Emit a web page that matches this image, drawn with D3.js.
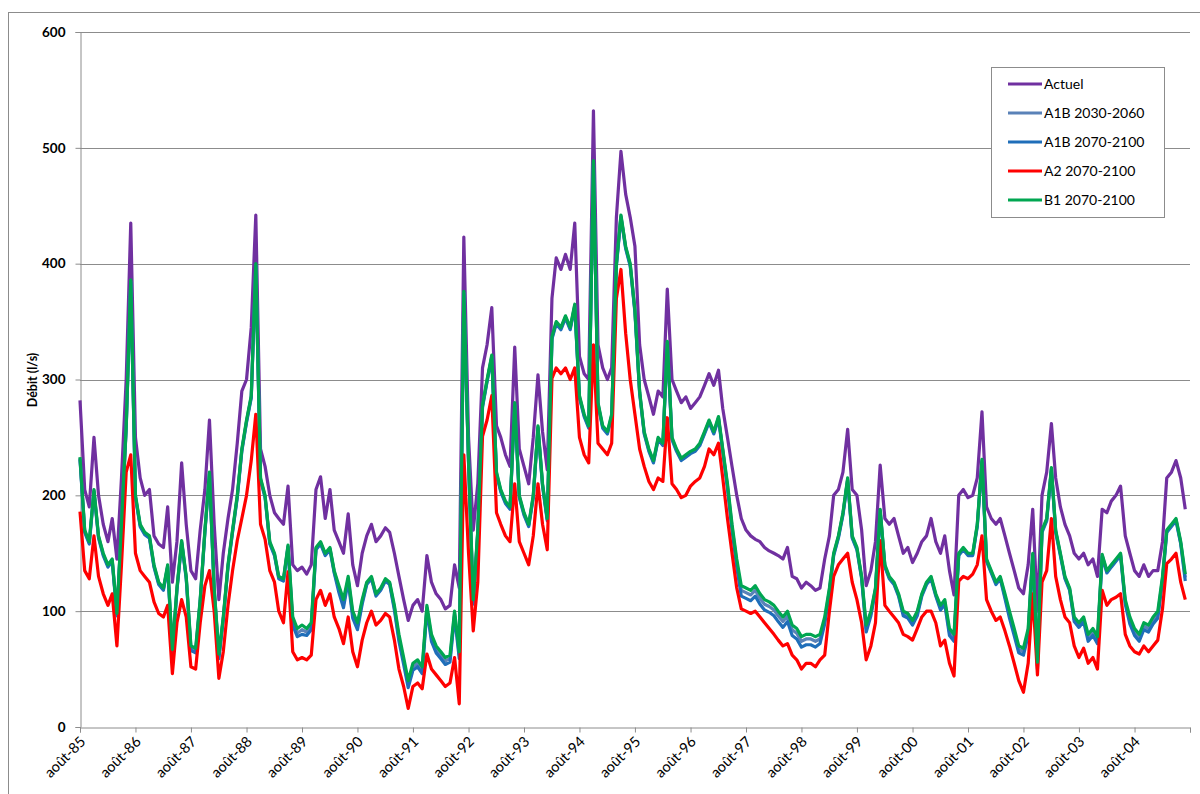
<!DOCTYPE html>
<html><head><meta charset="utf-8">
<script src="https://cdn.jsdelivr.net/npm/d3@7"></script>
<style>body{margin:0;background:#fff}svg{display:block}</style>
</head><body>
<svg id="c" width="1200" height="794"></svg>
<script>
// ---- data (monthly readings, first value = August 1985) ----
const yTicks = [0, 100, 200, 300, 400, 500, 600];
const tickYears = [1985,1986,1987,1988,1989,1990,1991,1992,1993,1994,1995,1996,1997,1998,1999,2000,2001,2002,2003,2004,2005];
const xTickLabels = ["août-85","août-86","août-87","août-88","août-89","août-90","août-91","août-92","août-93","août-94",
  "août-95","août-96","août-97","août-98","août-99","août-00","août-01","août-02","août-03","août-04",""];
const seriesNames = ["Actuel", "A1B 2030-2060", "A1B 2070-2100", "A2 2070-2100", "B1 2070-2100"];

const actuel = [282,205,190,250,200,175,160,180,145,215,
300,435,250,215,200,205,165,158,155,190,
125,160,228,175,135,128,170,205,265,175,
110,150,180,205,245,290,300,345,442,240,
225,200,185,180,175,208,140,135,138,132,
140,205,216,180,205,170,160,150,184,140,
122,150,165,175,160,165,172,168,150,130,
110,92,105,110,100,148,125,115,110,102,
105,140,120,423,250,170,210,310,330,362,
260,250,235,225,328,240,225,210,250,304,
255,222,370,405,395,408,395,435,320,305,
300,532,330,310,300,310,440,497,460,440,
415,330,300,285,270,290,285,378,300,290,
280,285,275,280,285,295,305,295,308,275,
250,225,200,180,170,165,162,160,155,152,
150,148,145,155,130,128,120,125,122,118,
120,145,165,200,205,220,257,205,200,170,
122,135,160,226,180,175,180,165,150,155,
142,150,160,165,180,160,150,165,135,114,
200,205,198,200,215,272,190,180,175,180,
165,150,135,120,115,140,188,100,200,220,
262,215,190,175,165,150,145,150,140,145,
130,188,185,195,200,208,165,150,135,130,
140,130,135,135,160,215,220,230,215,188];

const a1b2030 = [232,169,159,204,164,149,139,144,97,174,
259,385,199,174,167,164,139,124,119,139,
65,119,160,129,68,66,109,169,219,119,
61,94,139,169,199,239,264,285,399,214,
199,159,149,129,127,156,92,81,84,82,
87,154,159,149,154,134,119,106,128,97,
87,108,124,129,114,119,127,124,103,77,
57,37,52,55,49,103,77,67,62,57,
59,98,62,375,229,108,169,277,299,320,
219,204,194,189,279,199,184,174,199,259,
209,179,336,349,344,354,344,364,285,269,
259,488,279,259,254,269,399,441,414,399,
359,289,254,239,229,249,244,332,249,239,
231,234,237,239,244,254,264,254,267,239,
208,173,142,118,116,114,118,111,106,104,
101,96,91,96,84,81,74,76,76,74,
76,92,118,149,164,184,214,164,154,129,
85,98,119,187,139,129,124,114,98,96,
90,98,114,124,129,114,103,108,82,77,
149,154,149,149,174,230,144,134,124,129,
113,97,82,67,65,82,149,53,169,179,
223,169,149,129,119,93,88,93,77,82,
75,148,134,139,144,149,108,92,82,77,
87,85,92,97,128,169,174,179,159,129];

const a1b2070 = [231,168,158,203,163,148,138,143,96,173,
258,384,198,173,166,163,138,123,118,138,
63,118,159,128,66,64,108,168,218,118,
59,93,138,168,198,238,263,284,398,213,
198,158,148,128,126,155,88,78,80,79,
84,153,158,148,153,133,116,103,126,94,
84,106,123,128,113,118,126,123,101,74,
54,34,49,52,46,101,74,64,59,54,
56,96,59,374,228,106,168,276,298,319,
218,203,193,188,278,198,183,173,198,258,
208,178,335,348,343,353,343,363,284,268,
258,487,278,258,253,268,398,440,413,398,
358,288,253,238,228,248,243,331,248,238,
230,233,236,238,243,253,263,253,266,238,
206,170,138,113,111,109,113,106,101,99,
96,91,86,91,79,76,69,71,71,69,
72,89,116,148,163,183,213,163,153,128,
82,96,118,186,138,128,123,113,96,94,
88,96,113,123,128,113,101,106,79,74,
148,153,148,148,173,229,143,133,123,128,
111,94,79,64,62,79,148,50,168,178,
222,168,148,128,118,91,86,91,74,79,
72,147,133,138,143,148,106,89,79,74,
84,82,89,94,126,168,173,178,158,126];

const a2 = [186,135,128,165,130,115,105,115,70,140,
220,235,150,135,130,125,108,98,95,105,
46,90,110,95,52,50,90,122,135,100,
42,65,105,135,161,180,200,230,270,175,
162,135,125,100,90,134,65,58,60,58,
62,110,118,105,115,95,85,72,95,65,
52,75,90,100,88,92,98,95,75,50,
35,16,35,38,33,63,50,45,40,35,
38,60,20,235,150,83,125,251,265,286,
185,175,165,160,210,160,150,140,165,210,
175,153,301,310,305,310,300,310,250,235,
228,330,245,240,235,245,370,395,340,300,
270,240,225,212,205,215,212,267,210,205,
198,200,208,212,215,225,240,235,245,215,
180,150,120,102,100,98,100,95,90,85,
80,75,70,72,62,58,50,55,55,52,
58,62,100,130,140,145,150,125,110,90,
58,70,90,161,105,100,95,90,80,78,
75,85,95,100,100,90,70,75,55,44,
126,130,128,132,140,165,110,100,92,95,
83,70,55,40,30,55,115,45,125,135,
180,130,110,95,90,70,60,68,55,60,
50,118,105,110,112,115,80,70,65,63,
70,65,70,75,102,141,145,150,125,110];

const b1 = [233,170,160,205,165,150,140,145,98,175,
260,386,200,175,168,165,140,125,120,140,
67,120,161,130,70,68,110,170,220,120,
63,95,140,170,200,240,265,286,400,215,
200,160,150,130,128,157,95,85,88,85,
90,155,160,150,155,135,122,110,130,100,
90,110,125,130,115,120,128,125,105,80,
60,40,55,58,52,105,80,70,65,60,
62,100,65,376,230,110,170,278,300,321,
220,205,195,190,280,200,185,175,200,260,
210,180,337,350,345,355,345,365,286,270,
260,489,280,260,255,270,400,442,415,400,
360,290,255,240,230,250,245,333,250,240,
232,235,238,240,245,255,265,255,268,240,
210,175,145,122,120,118,122,115,110,108,
105,100,95,100,88,85,78,80,80,78,
80,95,120,150,165,185,215,165,155,130,
88,100,120,188,140,130,125,115,100,98,
92,100,115,125,130,115,105,110,85,80,
150,155,150,150,175,231,145,135,125,130,
115,100,85,70,68,85,150,56,170,180,
224,170,150,130,120,95,90,95,80,85,
78,149,135,140,145,150,110,95,85,80,
90,88,95,100,130,170,175,180,160,132];

const seriesValues = [actuel, a1b2030, a1b2070, a2, b1];
const seriesColors = ["#7030A0", "#5A82B8", "#1F6EB9", "#FF0000", "#00A651"];

// ---- chart ----
const svg = d3.select("#c");
const font = "Lato, 'Open Sans', sans-serif";
const t0 = new Date(1985, 7, 1), t1 = new Date(2005, 7, 1);
const dates = d3.timeMonth.range(t0, t1);
const yearTicks = tickYears.map(yr => new Date(yr, 7, 1));
const x = d3.scaleTime().domain([t0, t1]).range([80, 1190]);
const y = d3.scaleLinear().domain([0, 600]).range([727, 32]);

svg.append("rect").attr("x", 8.5).attr("y", 12.5).attr("width", 1200).attr("height", 800)
  .attr("fill", "#fff").attr("stroke", "#8c8c8c");

// grid
svg.append("g").selectAll("line").data(yTicks.filter(v => v > 0)).join("line")
  .attr("x1", 80).attr("x2", 1190)
  .attr("y1", d => Math.round(y(d)) + 0.5).attr("y2", d => Math.round(y(d)) + 0.5)
  .attr("stroke", "#8c8c8c").attr("stroke-width", 1);

// y axis
const yAxis = svg.append("g").attr("transform", "translate(80.5,0)")
  .call(d3.axisLeft(y).tickValues(yTicks).tickSize(5).tickPadding(10));
yAxis.select(".domain").attr("stroke", "#8c8c8c");
yAxis.selectAll(".tick line").attr("stroke", "#8c8c8c");
yAxis.selectAll(".tick text").attr("font-family", font).attr("font-size", 13.5).attr("font-weight", "bold").attr("fill", "#000");

svg.append("text").attr("transform", "translate(37,380) rotate(-90)")
  .attr("text-anchor", "middle").attr("font-family", font).attr("font-size", 12.5)
  .attr("font-weight", "bold").text("Débit (l/s)");

// lines
const line = d3.line().x((d, i) => x(dates[i])).y(d => y(d));
svg.append("g").selectAll("path").data(seriesValues).join("path")
  .attr("d", d => line(d)).attr("fill", "none")
  .attr("stroke", (d, i) => seriesColors[i]).attr("stroke-width", 3.2)
  .attr("stroke-linejoin", "round");

// x axis
const xAxis = svg.append("g").attr("transform", "translate(0,727.5)")
  .call(d3.axisBottom(x).tickValues(yearTicks).tickSize(5).tickFormat((d, i) => xTickLabels[i]));
xAxis.select(".domain").attr("stroke", "#8c8c8c");
xAxis.selectAll(".tick line").attr("stroke", "#8c8c8c");
xAxis.selectAll(".tick text").attr("font-family", font).attr("font-size", 14.5).attr("fill", "#000")
  .attr("text-anchor", "end").attr("dy", 0).attr("y", 0)
  .attr("transform", "translate(6,15) rotate(-45)");

// legend
const lg = svg.append("g");
lg.append("rect").attr("x", 991.5).attr("y", 67.5).attr("width", 173).attr("height", 150)
  .attr("fill", "#fff").attr("stroke", "#8c8c8c");
const rowY = [84, 113, 142, 171, 200];
seriesNames.forEach((n, i) => {
  lg.append("line").attr("x1", 1008).attr("x2", 1042).attr("y1", rowY[i]).attr("y2", rowY[i])
    .attr("stroke", seriesColors[i]).attr("stroke-width", 3);
  lg.append("text").attr("x", 1044).attr("y", rowY[i]).attr("dy", "0.35em")
    .attr("font-family", font).attr("font-size", 14).attr("fill", "#000").text(n);
});
</script>
</body></html>
